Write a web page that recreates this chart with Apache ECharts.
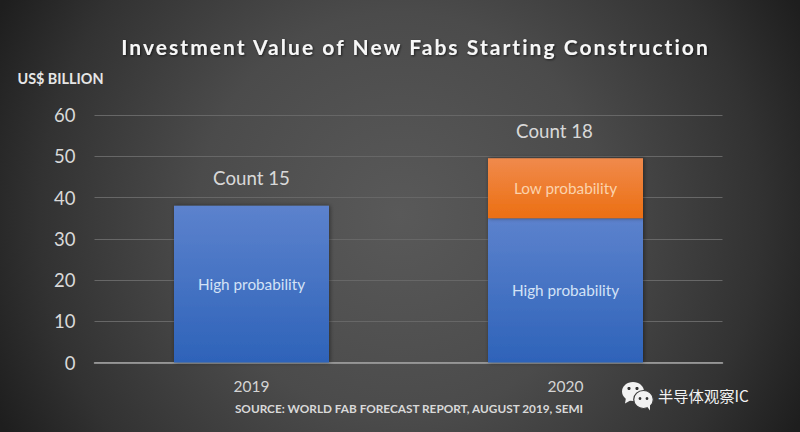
<!DOCTYPE html>
<html><head><meta charset="utf-8">
<script src="https://cdn.jsdelivr.net/npm/echarts@6/dist/echarts.min.js"></script>
<style>
html,body{margin:0;padding:0;background:#333}
#c{width:800px;height:432px}
</style></head><body><div id="c"></div>
<script>
const chartTitle = 'Investment Value of New Fabs Starting Construction';
const unitLabel = 'US$ BILLION';
const sourceText = 'SOURCE: WORLD FAB FORECAST REPORT, AUGUST 2019, SEMI';
const watermark = '半导体观察IC';
const categories = ['2019', '2020'];
const highProbability = [38, 35];
const lowProbability = [null, 14.5];
const barTotals = [38, 49.5];
const countLabels = ['Count 15', 'Count 18'];
const font = 'Lato';

const chart = echarts.init(document.getElementById('c'), null, {renderer:'svg', width:800, height:432});
const vGrad = (a,b)=>new echarts.graphic.LinearGradient(0,0,0,1,[{offset:0,color:a},{offset:1,color:b}]);
const barShadow = {shadowColor:'rgba(0,0,0,0.45)', shadowBlur:4, shadowOffsetX:1, shadowOffsetY:0};
chart.setOption({
  animation:false,
  backgroundColor:{type:'radial',x:400,y:215,r:450,global:true,colorStops:[
    {offset:0,color:'#595959'},{offset:0.45,color:'#4b4b4b'},{offset:0.8,color:'#323232'},{offset:1,color:'#1e1e1e'}]},
  title:[
    {text:chartTitle,left:410.5,top:41,textAlign:'center',textVerticalAlign:'middle',
     textStyle:{color:'#f7f7f7',fontFamily:font,fontWeight:'bold',fontSize:21,
       textShadowColor:'rgba(0,0,0,0.6)',textShadowBlur:2,textShadowOffsetX:1,textShadowOffsetY:1}},
    {text:sourceText,left:404,top:403,textAlign:'center',textVerticalAlign:'middle',
     textStyle:{color:'#d9d9d9',fontFamily:font,fontWeight:'bold',fontSize:11.8}},
    {text:watermark,left:653,top:390,textVerticalAlign:'middle',
     textStyle:{color:'#f2f2f2',fontFamily:'Noto Sans CJK SC',fontWeight:'normal',fontSize:15.3}}
  ],
  grid:{left:94.5,right:77.5,top:115,bottom:69.4},
  xAxis:{type:'category',data:categories,
    axisLine:{lineStyle:{color:'#a6a6a6',width:1.5}},axisTick:{show:false},
    axisLabel:{color:'#d4d4d4',fontFamily:font,fontSize:15.5,margin:15}},
  yAxis:{type:'value',min:0,max:60,interval:10,
    name:unitLabel,nameLocation:'end',nameGap:30,
    nameTextStyle:{color:'#e6e6e6',fontFamily:font,fontWeight:'bold',fontSize:14.4,padding:[0,68,0,0]},
    axisLine:{show:false},axisTick:{show:false},
    splitLine:{lineStyle:{color:'#676767',width:1}},
    axisLabel:{color:'#d9d9d9',fontFamily:font,fontSize:18.5,margin:19}},
  series:[
    {name:'High probability',type:'bar',stack:'a',barWidth:155,data:highProbability,
     itemStyle:Object.assign({color:vGrad('#5c82cd','#2e63b9')},barShadow),
     label:{show:true,position:'inside',formatter:'{a}',color:'#d3e2f6',fontFamily:font,fontSize:15.3}},
    {name:'Low probability',type:'bar',stack:'a',barWidth:155,data:lowProbability,
     itemStyle:Object.assign({color:vGrad('#f08a4c','#ec6f12')},barShadow),
     label:{show:true,position:'inside',formatter:'{a}',color:'#fbd3ad',fontFamily:font,fontSize:15.3}},
    {name:'Count',type:'scatter',symbolSize:0,silent:true,z:5,
     data:barTotals.map((v,i)=>({value:v,label:{offset:[i===1?-11:0,0]}})),
     label:{show:true,position:'top',distance:18,color:'#ffffff',fontFamily:font,fontSize:18.7,
       formatter:p=>countLabels[p.dataIndex]}}
  ],
  graphic:[
    {type:'group',left:622,top:382,silent:true,children:[
      {type:'polygon',shape:{points:[[4,16],[3,22],[10,18]]},style:{fill:'#f2f2f2'}},
      {type:'ellipse',shape:{cx:11,cy:10,rx:11,ry:9.5},style:{fill:'#f2f2f2'}},
      {type:'circle',shape:{cx:7,cy:7,r:1.6},style:{fill:'#333'}},
      {type:'circle',shape:{cx:15,cy:7,r:1.6},style:{fill:'#333'}},
      {type:'ellipse',shape:{cx:21.5,cy:18,rx:9.8,ry:9},style:{fill:'#f2f2f2',stroke:'#3c3c3c',lineWidth:1.2}},
      {type:'polygon',shape:{points:[[25,25],[28,29],[28,23]]},style:{fill:'#f2f2f2'}},
      {type:'circle',shape:{cx:18,cy:17,r:1.4},style:{fill:'#333'}},
      {type:'circle',shape:{cx:25,cy:17,r:1.4},style:{fill:'#333'}}
    ]}
  ]
});
document.querySelectorAll('#c text').forEach(t=>{
  if(t.textContent===chartTitle) t.setAttribute('style',(t.getAttribute('style')||'')+';letter-spacing:2.05px');
});
</script></body></html>
